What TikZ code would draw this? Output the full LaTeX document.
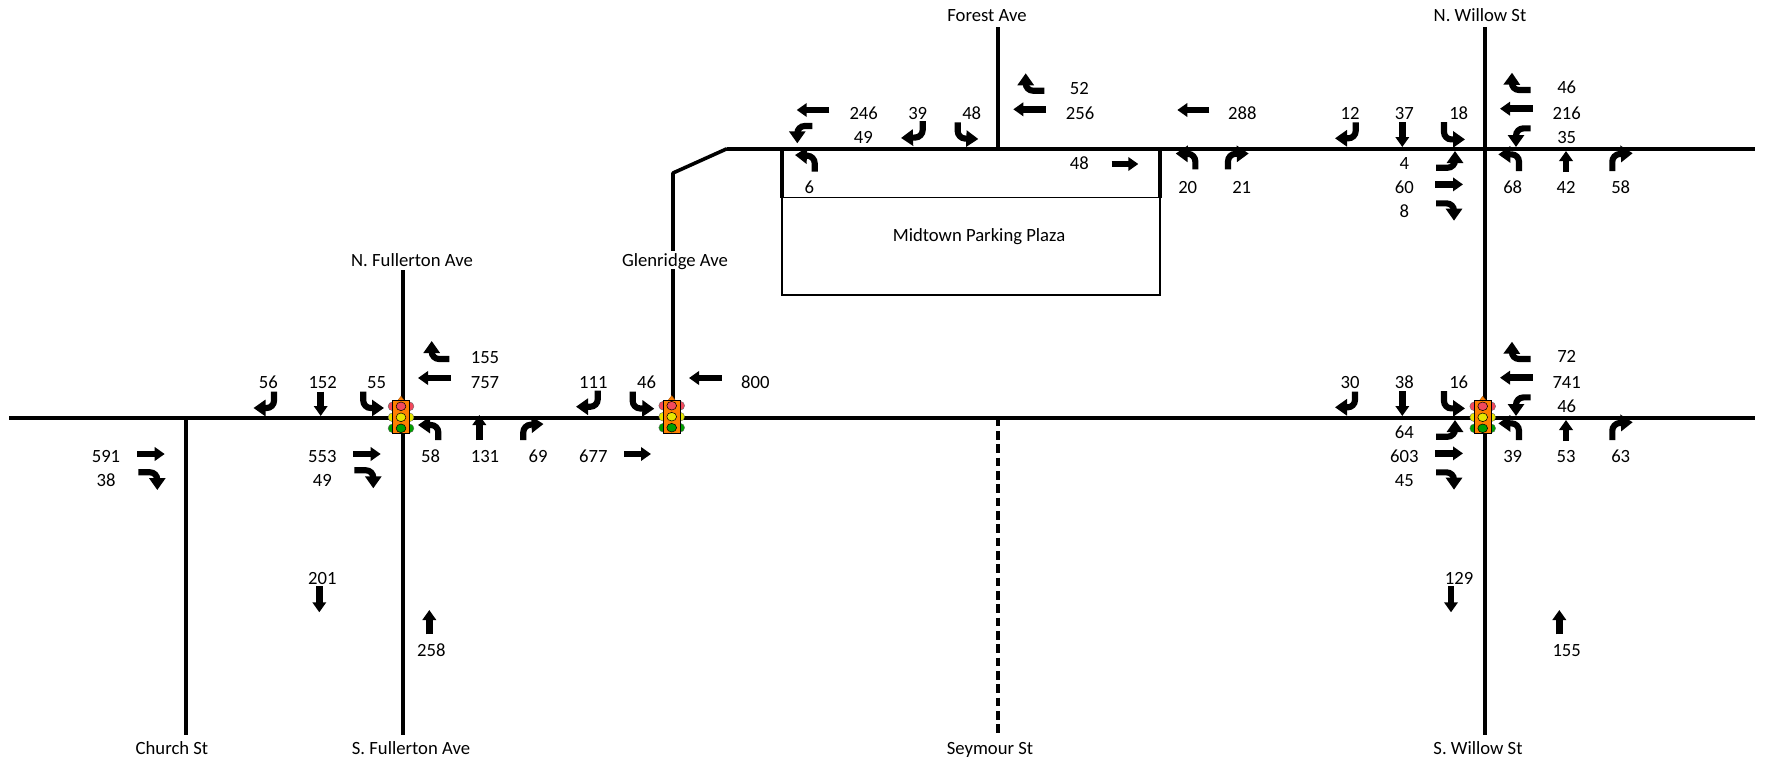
\documentclass[tikz,border=0pt]{standalone}
\usepackage{fontspec}
\setmainfont{Carlito}
\usetikzlibrary{arrows.meta}
\newcount\labcnt
\newcommand{\lab}[2]{\global\advance\labcnt by 1 \node[lbl] (t\the\labcnt) at (#1) {#2};}
\newcommand{\sarr}[2]{\draw[straightarrow] (#1) -- (#2);}
\newcommand{\tarr}[3]{\draw[turnarrow] (#1) -- (#2) -- (#3);}
\newcommand{\signal}[1]{%
  \begin{scope}[shift={(#1)}]
    \fill[sigorange,draw=sigorange!70!black,line width=.3pt] (-3.5,-16.5) -- (0,-21) -- (3.5,-16.5) -- cycle;
    \foreach \yy/\cc in {-11/sigred,0/sigyellow,11/siggreen}{
      \fill[\cc,draw=black!60,line width=.3pt] (-8.5,\yy) circle[radius=4.4];
      \fill[\cc,draw=black!60,line width=.3pt] (8.5,\yy) circle[radius=4.4];
    }
    \fill[sigorange,draw=black,line width=.6pt] (-8.7,-16.5) rectangle (8.7,16.5);
    \foreach \yy/\cc in {-11/sigred,0/sigyellow,11/siggreen}{
      \fill[\cc,draw=black,line width=.4pt] (0,\yy) ellipse[x radius=4.9,y radius=4.3];
    }
  \end{scope}}
\newcommand{\grparrows}{%
  \tarr{45.7,-58.7}{26.7,-58.7}{27,-76}
  \sarr{47.7,-40}{15,-40}
  \tarr{45.7,-20.3}{31,-20.3}{31,-1.7}
  \sarr{-82.7,-26.7}{-82.7,-1.7}
  \tarr{-41,-26.7}{-41,-9.3}{-20,-9.3}
  \tarr{-49,19}{-30,19}{-30,2.3}
  \sarr{-50,35.7}{-22,35.7}
  \tarr{-49,54.7}{-31,54.7}{-31,72}
  \tarr{34,22.3}{34,5.7}{13.3,5.7}
  \sarr{81,23.3}{81,2.3}
  \tarr{127.3,22.3}{127.3,5.7}{147.7,4.5}}
\tikzset{
  road/.style={line width=2.7pt,line cap=butt,line join=miter},
  thinline/.style={line width=1.1pt},
  lbl/.style={inner sep=0pt,font=\fontsize{14}{16}\selectfont,text height=9pt,text depth=0pt,anchor=center,yshift=-.8pt},
  maskedlbl/.style={lbl,fill=white,inner xsep=1pt,inner ysep=2pt},
  straightarrow/.style={line width=5pt,-{Triangle[length=7.5pt,width=10pt]}},
  turnarrow/.style={line width=4.6pt,rounded corners=5.5pt,-{Triangle[length=9pt,width=12pt]}},
}
\definecolor{sigorange}{HTML}{FF8000}
\definecolor{sigred}{HTML}{F2495C}
\definecolor{sigyellow}{HTML}{E6E600}
\definecolor{siggreen}{HTML}{00A000}
\begin{document}
\begin{tikzpicture}[x=.75pt,y=-.75pt]
\useasboundingbox (0,0) rectangle (1766,760);
% road ends
\coordinate (mainW) at (9,417.7);
\coordinate (mainE) at (1755,417.7);
\coordinate (topW) at (727,148.7);
\coordinate (topE) at (1755,148.7);
\coordinate (glenS) at (673,417.7);
\coordinate (glenB) at (673,173);
\coordinate (forestN) at (998,27);
\coordinate (forestS) at (998,148.7);
\coordinate (willowN) at (1485,27);
\coordinate (willowS) at (1485,735);
\coordinate (fullN) at (402.7,270);
\coordinate (fullS) at (402.7,735);
\coordinate (churchN) at (186,417.7);
\coordinate (churchS) at (186,735);
\coordinate (seyN) at (998,417.7);
\coordinate (seyS) at (998,735);
\coordinate (plA) at (782,148.7);
\coordinate (plB) at (782,197.7);
\coordinate (plC) at (1160,148.7);
\coordinate (plD) at (1160,197.7);
\coordinate (plE) at (782,295);
\coordinate (plF) at (1160,295);
% plaza
\draw[thinline] (plB) -- (plD);
\draw[thinline] (plB) -- (plE) -- (plF) -- (plD);
\draw[road] (plA) -- (plB);
\draw[road] (plC) -- (plD);
% roads
\draw[road] (mainW) -- (mainE);
\draw[road] (topW) -- (topE);
\draw[road,line join=round] (glenS) -- (glenB) -- (topW);
\draw[road] (forestN) -- (forestS);
\draw[road] (willowN) -- (willowS);
\draw[road] (fullN) -- (fullS);
\draw[road] (churchN) -- (churchS);
\draw[road,dash pattern=on 6.5pt off 3.5pt] (seyN) -- (seyS);
% street names
\lab{987,14}{Forest Ave}
\lab{1480,14}{N. Willow St}
\lab{412,259}{N. Fullerton Ave}
\node[maskedlbl] (glenname) at (675,259) {Glenridge Ave};
\lab{979,234}{Midtown Parking Plaza}
\lab{172,747}{Church St}
\lab{411,747}{S. Fullerton Ave}
\lab{990,747}{Seymour St}
\lab{1478,747}{S. Willow St}
% Willow S and Willow N
\begin{scope}[shift={(1485,417.7)}]
  \grparrows
  \lab{81.7,-62}{72}\lab{81.7,-36.7}{741}\lab{81.7,-12}{46}
  \lab{-80.7,-36.7}{38}\lab{-26.3,-36.7}{16}
  \lab{-80.7,13.3}{64}\lab{-80.7,37.3}{603}\lab{-80.7,61.3}{45}
  \lab{27.7,37.3}{39}\lab{81,37.3}{53}\lab{135.7,37.3}{63}
\end{scope}
\begin{scope}[shift={(1485,148.7)}]
  \grparrows
  \lab{81.7,-62}{46}\lab{81.7,-36.7}{216}\lab{81.7,-12}{35}
  \lab{-80.7,-36.7}{37}\lab{-26.3,-36.7}{18}
  \lab{-80.7,13.3}{4}\lab{-80.7,37.3}{60}\lab{-80.7,61.3}{8}
  \lab{27.7,37.3}{68}\lab{81,37.3}{42}\lab{135.7,37.3}{58}
\end{scope}
\lab{1350,381.7}{30}
\tarr{1355,391.7}{1355,407.3}{1335,407.3}
\lab{1350,112.7}{12}
\tarr{1355.7,122.3}{1355.7,138.3}{1335,138.3}
% Fullerton
\tarr{449.3,359}{431.7,359}{431.7,341}
\sarr{451,378}{418,378}
\tarr{438.3,440}{438.3,425}{418,425}
\sarr{479.3,440}{479.3,415}
\tarr{523.3,440}{523.3,425}{543.5,424}
\lab{485,356.7}{155}\lab{485,381.7}{757}
\lab{430.7,455}{58}\lab{485,455}{131}\lab{538,455}{69}
\lab{268.3,381.7}{56}\lab{322.7,381.7}{152}\lab{376.7,381.7}{55}
\lab{322.3,455.7}{553}\lab{322.3,479.3}{49}
\lab{106,455.7}{591}\lab{106,479.3}{38}
\tarr{274,391.7}{274,408}{253.5,408}
\sarr{320.7,391.7}{320.7,416}
\tarr{363.3,391.7}{363.3,408}{384,408}
\sarr{353.3,454}{380.7,454}
\tarr{354.3,470.3}{373.3,470.3}{373.3,488.3}
\sarr{137.3,454}{164.7,454}
\tarr{138.3,472.3}{157.3,472.3}{157.3,490}
% Glenridge
\lab{593.3,381.7}{111}\lab{646.7,381.7}{46}\lab{755.3,381.7}{800}\lab{593.3,455.7}{677}
\tarr{597.7,390.7}{597.7,406.7}{576,406.7}
\tarr{632.7,391.7}{632.7,408.3}{654.3,408.7}
\sarr{721.7,378}{689,378}
\sarr{624,454}{651,454}
% top road middle
\lab{1079.3,87.3}{52}\lab{1080,112.7}{256}\lab{1242.3,112.7}{288}\lab{1079.3,162.3}{48}
\lab{1187.7,186.7}{20}\lab{1241.7,186.7}{21}
\tarr{1044.3,90.7}{1025.7,90.7}{1025.7,73.3}
\sarr{1046,109.3}{1013.3,109.3}
\sarr{1209.3,110}{1177.3,110}
\sarr{1111.7,164}{1138.3,164}
\tarr{1195.3,169.3}{1195.3,154}{1175.7,153.5}
\tarr{1228,169.3}{1228,154}{1248.7,153.5}
\lab{863.7,112.7}{246}\lab{917.7,112.7}{39}\lab{971.7,112.7}{48}\lab{863.3,136.7}{49}\lab{809.3,186.7}{6}
\sarr{829.3,110}{796.7,110}
\tarr{812.3,126}{797.3,126}{797.3,143.3}
\tarr{922.7,121}{922.7,137.3}{901,138}
\tarr{957.7,122.3}{957.7,138.3}{978.3,139}
\tarr{814.7,171.7}{814.7,156}{795,155}
% lower arrows
\lab{322.3,577.7}{201}\lab{431.3,649.3}{258}\lab{1459,577.7}{129}\lab{1566.7,649.3}{155}
\sarr{319.3,586}{319.3,612.3}
\sarr{429.3,634.3}{429.3,610}
\sarr{1451,586}{1451,612.3}
\sarr{1559.3,634.3}{1559.3,610}
% signals
\signal{401,417.3}
\signal{671.7,416.7}
\signal{1482.7,417.3}
\end{tikzpicture}
\end{document}
